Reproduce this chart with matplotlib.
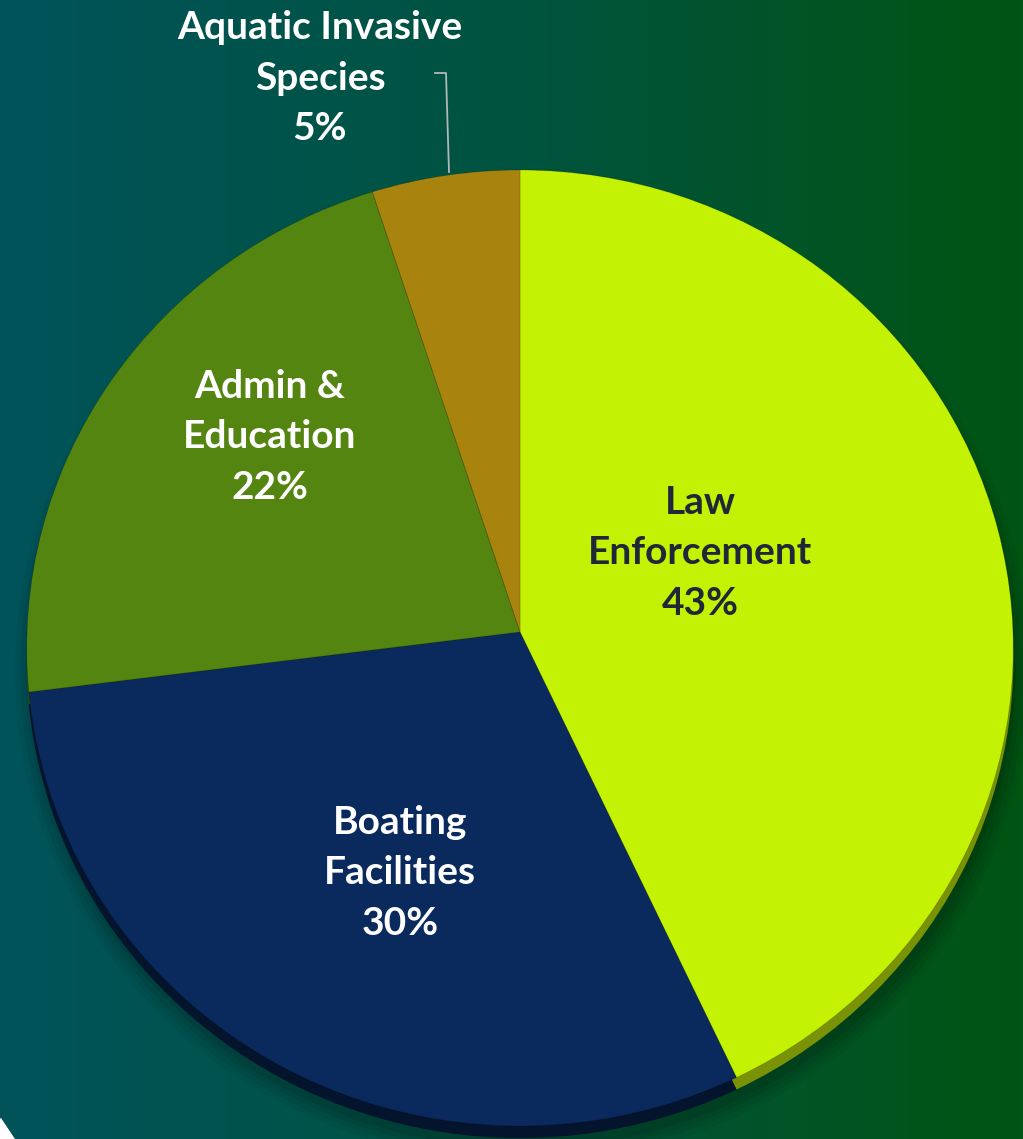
import numpy as np
import matplotlib
matplotlib.use("Agg")
import matplotlib.pyplot as plt
from matplotlib.colors import LinearSegmentedColormap
from matplotlib.patches import Ellipse, Polygon
from matplotlib.transforms import Transform

# ---- data ----
categories = ["Law\nEnforcement", "Boating\nFacilities", "Admin &\nEducation", "Aquatic Invasive\nSpecies"]
values = [43, 30, 22, 5]
colors = ["#C3F205", "#0A2A5E", "#538510", "#A8840F"]
side_colors = ["#7A9205", "#04142C", "#2F4C08", "#5E4A08"]
text_colors = ["#1E2838", "white", "white", "white"]

W, H = 1023, 1139
fig = plt.figure(figsize=(W / 100, H / 100), dpi=100)

# background gradient
bg = fig.add_axes([0, 0, 1, 1])
cmap = LinearSegmentedColormap.from_list("bg", ["#00535A", "#00533F", "#005512"])
grad = np.linspace(0, 1, 256).reshape(1, -1)
bg.imshow(grad, cmap=cmap, aspect="auto", extent=[0, W, H, 0], zorder=0)
bg.add_patch(Polygon([[0, 1118], [0, H], [14, H]], closed=True, color="white", zorder=1))


class TiltedDisk(Transform):
    """Perspective view of a tilted unit disk mapped to pixel coordinates."""
    input_dims = 2
    output_dims = 2

    def __init__(self, cx, cy, rx, top, bottom, dy=0.0):
        super().__init__()
        self.cx, self.cy, self.rx, self.dy = cx, cy, rx, dy
        # y = (a v + cy) / (c v + 1) with v=1 -> top, v=-1 -> bottom
        self.c = (top + bottom - 2 * cy) / (bottom - top)
        self.a = top * (self.c + 1) - cy

    def transform_non_affine(self, values):
        v = np.asarray(values, dtype=float)
        u, w = v[:, 0], v[:, 1]
        d = self.c * w + 1.0
        x = self.cx + self.rx * u / d
        y = (self.a * w + self.cy) / d + self.dy
        return np.column_stack([x, y])


cx, cy, rx, top, bottom = 520, 632, 493, 170, 1126

# soft drop shadow
for s, al in [(1.03, 0.04), (1.02, 0.05), (1.01, 0.06), (1.0, 0.08)]:
    bg.add_patch(Ellipse((cx + 3, (top + bottom) / 2 + 22), 2 * rx * s, (bottom - top) * s,
                         color="black", alpha=al, lw=0, zorder=2))

# side (depth) of the disk
side_w, _ = bg.pie(values, colors=side_colors, startangle=90, counterclock=False, radius=1.0,
                   wedgeprops=dict(linewidth=0))
side_tr = TiltedDisk(cx, cy, rx, top, bottom, dy=12) + bg.transData
for w in side_w:
    w.set_transform(side_tr)
    w.set_zorder(3)

# top face
wedges, _ = bg.pie(values, colors=colors, startangle=90, counterclock=False, radius=1.0,
                   wedgeprops=dict(linewidth=0.6, edgecolor=(0, 0, 0, 0.18)))
top_tr = TiltedDisk(cx, cy, rx, top, bottom) + bg.transData
for w in wedges:
    w.set_transform(top_tr)
    w.set_zorder(4)

bg.set_aspect("auto")
bg.set_xlim(0, W)
bg.set_ylim(H, 0)
bg.axis("off")

# labels
label_pos = [(700, 553), (400, 873), (270, 437), (320, 78)]
for cat, val, tc, (lx, ly) in zip(categories, values, text_colors, label_pos):
    bg.text(lx, ly, f"{cat}\n{val}%", ha="center", va="center", color=tc,
            fontsize=28, fontweight="bold", family=["Lato", "DejaVu Sans"],
            linespacing=1.55, zorder=10)

# leader line for the small slice
bg.plot([435, 446, 449], [73, 73, 172], color="#B0B8B8", lw=1.3, zorder=9)

fig.savefig("out.png", dpi=100)
